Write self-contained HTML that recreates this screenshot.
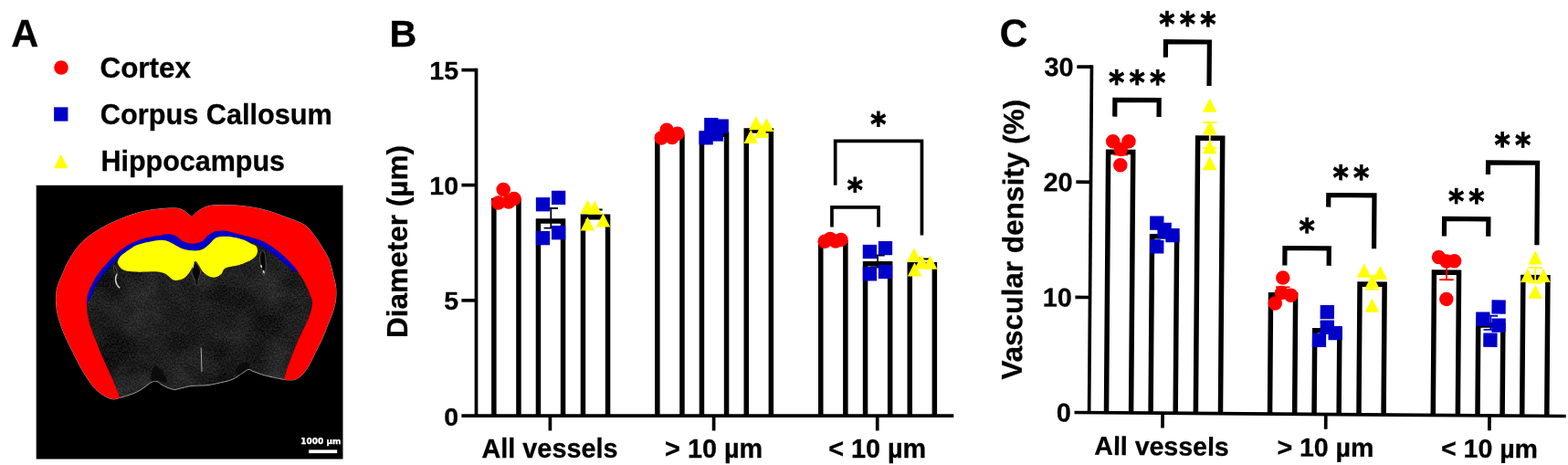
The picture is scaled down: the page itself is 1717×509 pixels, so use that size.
<!DOCTYPE html>
<html lang="en">
<head>
<meta charset="utf-8">
<title>Vascular diameter and density by brain region</title>
<style>
html,body{margin:0;padding:0;background:#fff;}
body{width:1717px;height:509px;overflow:hidden;}
svg{display:block;}
</style>
</head>
<body>
<svg width="1717" height="509" viewBox="0 0 1717 509">
<defs>
<filter id="grain" x="0" y="0" width="100%" height="100%" color-interpolation-filters="sRGB">
<feTurbulence type="fractalNoise" baseFrequency="0.55" numOctaves="2" seed="7" result="fine"/>
<feColorMatrix in="fine" type="matrix" values="0.24 0 0 0 -0.05  0.24 0 0 0 -0.05  0.24 0 0 0 -0.05  0 0 0 0 1" result="fineg"/>
<feTurbulence type="fractalNoise" baseFrequency="0.022" numOctaves="3" seed="11" result="coarse"/>
<feColorMatrix in="coarse" type="matrix" values="0.2 0 0 0 -0.05  0.2 0 0 0 -0.05  0.2 0 0 0 -0.05  0 0 0 0 1" result="coarseg"/>
<feComposite in="fineg" in2="coarseg" operator="arithmetic" k1="0" k2="1" k3="1" k4="0" result="tex"/>
<feComposite in="tex" in2="SourceAlpha" operator="in"/>
</filter>
</defs>
<rect width="1717" height="509" fill="#fff"/>
<g id="panelA">
<rect x="39.7" y="202.8" width="335.8" height="299.7" fill="#000"/>
<path d="M209.8 237.8C211.13 236.58 214.38 232.6 217.8 230.5C221.22 228.4 224.78 226.2 230.3 225.2C235.82 224.2 244.03 224.32 250.9 224.5C257.77 224.68 264.62 225.3 271.5 226.3C278.38 227.3 285.32 228.6 292.2 230.5C299.08 232.4 305.93 235.08 312.8 237.7C319.67 240.32 328.25 242.93 333.4 246.2C338.55 249.47 340.27 252.88 343.7 257.3C347.13 261.72 351.2 268.08 354 272.7C356.8 277.32 358.75 280.45 360.5 285C362.25 289.55 363.3 295.12 364.5 300C365.7 304.88 367.2 309.55 367.7 314.3C368.2 319.05 368.12 323.75 367.5 328.5C366.88 333.25 365.53 338.05 364 342.8C362.47 347.55 360.2 352.25 358.3 357C356.4 361.75 354.73 366.55 352.6 371.3C350.47 376.05 347.87 380.75 345.5 385.5C343.13 390.25 341.02 395.52 338.4 399.8C335.78 404.08 332.65 408.55 329.8 411.2C326.95 413.85 324.38 414.98 321.3 415.7C318.22 416.42 312.97 415.53 311.3 415.5C309.08 415.05 302.05 413.72 298 412.8C293.95 411.88 290.67 411.13 287 410C283.33 408.87 278.5 406.92 276 406C273.5 405.08 273.83 404.05 272 404.5C270.17 404.95 268 406.87 265 408.7C262 410.53 258.57 413.67 254 415.5C249.43 417.33 242.45 418.63 237.6 419.7C232.75 420.77 229.5 421.45 224.9 421.9C220.3 422.35 214.82 421.8 210 422.4C205.18 423 199.2 424.82 196 425.5C192.8 426.18 192.8 426.67 190.8 426.5C188.8 426.33 186.3 425.42 184 424.5C181.7 423.58 179 422.17 177 421C175 419.83 173.83 417.95 172 417.5C170.17 417.05 168.33 417.22 166 418.3C163.67 419.38 160.75 422.17 158 424C155.25 425.83 152.5 427.83 149.5 429.3C146.5 430.77 143.03 431.78 140 432.8C136.97 433.82 132.75 434.97 131.3 435.4C130.1 435.65 126.72 437.13 124.1 436.9C121.48 436.67 118.92 435.9 115.6 434C112.28 432.1 107.53 428.82 104.2 425.5C100.87 422.18 98.45 418.38 95.6 414.1C92.75 409.82 89.72 404.57 87.1 399.8C84.48 395.03 82.28 390.25 79.9 385.5C77.52 380.75 74.93 376.05 72.8 371.3C70.67 366.55 68.77 361.75 67.1 357C65.43 352.25 63.75 347.55 62.8 342.8C61.85 338.05 61.4 333.25 61.4 328.5C61.4 323.75 61.62 319.05 62.8 314.3C63.98 309.55 66.3 305.05 68.5 300C70.7 294.95 72.42 289.87 76 284C79.58 278.13 84.23 270.47 90 264.8C95.77 259.13 103.73 254.13 110.6 250C117.47 245.87 124.32 242.88 131.2 240C138.08 237.12 145.02 234.53 151.9 232.7C158.78 230.87 165.63 229.78 172.5 229C179.37 228.22 188.12 227.62 193.1 228C198.08 228.38 199.62 229.67 202.4 231.3C205.18 232.93 208.57 236.72 209.8 237.8Z" fill="#262626" filter="url(#grain)"/>
<path d="M209.8 237.8C211.13 236.58 214.38 232.6 217.8 230.5C221.22 228.4 224.78 226.2 230.3 225.2C235.82 224.2 244.03 224.32 250.9 224.5C257.77 224.68 264.62 225.3 271.5 226.3C278.38 227.3 285.32 228.6 292.2 230.5C299.08 232.4 305.93 235.08 312.8 237.7C319.67 240.32 328.25 242.93 333.4 246.2C338.55 249.47 340.27 252.88 343.7 257.3C347.13 261.72 351.2 268.08 354 272.7C356.8 277.32 358.75 280.45 360.5 285C362.25 289.55 363.3 295.12 364.5 300C365.7 304.88 367.2 309.55 367.7 314.3C368.2 319.05 368.12 323.75 367.5 328.5C366.88 333.25 365.53 338.05 364 342.8C362.47 347.55 360.2 352.25 358.3 357C356.4 361.75 354.73 366.55 352.6 371.3C350.47 376.05 347.87 380.75 345.5 385.5C343.13 390.25 341.02 395.52 338.4 399.8C335.78 404.08 332.65 408.55 329.8 411.2C326.95 413.85 324.38 414.98 321.3 415.7C318.22 416.42 312.97 415.53 311.3 415.5C309.08 415.05 302.05 413.72 298 412.8C293.95 411.88 290.67 411.13 287 410C283.33 408.87 278.5 406.92 276 406C273.5 405.08 273.83 404.05 272 404.5C270.17 404.95 268 406.87 265 408.7C262 410.53 258.57 413.67 254 415.5C249.43 417.33 242.45 418.63 237.6 419.7C232.75 420.77 229.5 421.45 224.9 421.9C220.3 422.35 214.82 421.8 210 422.4C205.18 423 199.2 424.82 196 425.5C192.8 426.18 192.8 426.67 190.8 426.5C188.8 426.33 186.3 425.42 184 424.5C181.7 423.58 179 422.17 177 421C175 419.83 173.83 417.95 172 417.5C170.17 417.05 168.33 417.22 166 418.3C163.67 419.38 160.75 422.17 158 424C155.25 425.83 152.5 427.83 149.5 429.3C146.5 430.77 143.03 431.78 140 432.8C136.97 433.82 132.75 434.97 131.3 435.4C130.1 435.65 126.72 437.13 124.1 436.9C121.48 436.67 118.92 435.9 115.6 434C112.28 432.1 107.53 428.82 104.2 425.5C100.87 422.18 98.45 418.38 95.6 414.1C92.75 409.82 89.72 404.57 87.1 399.8C84.48 395.03 82.28 390.25 79.9 385.5C77.52 380.75 74.93 376.05 72.8 371.3C70.67 366.55 68.77 361.75 67.1 357C65.43 352.25 63.75 347.55 62.8 342.8C61.85 338.05 61.4 333.25 61.4 328.5C61.4 323.75 61.62 319.05 62.8 314.3C63.98 309.55 66.3 305.05 68.5 300C70.7 294.95 72.42 289.87 76 284C79.58 278.13 84.23 270.47 90 264.8C95.77 259.13 103.73 254.13 110.6 250C117.47 245.87 124.32 242.88 131.2 240C138.08 237.12 145.02 234.53 151.9 232.7C158.78 230.87 165.63 229.78 172.5 229C179.37 228.22 188.12 227.62 193.1 228C198.08 228.38 199.62 229.67 202.4 231.3C205.18 232.93 208.57 236.72 209.8 237.8Z" fill="none" stroke="#9c9c9c" stroke-width="1"/>
<g fill="#0b0b0b" opacity="0.92">
<path d="M257.500 406.500C259 401.500 263 397.500 268 396.500C271.500 396 273.500 398.500 273.800 403C271 403.500 267.500 405.500 264 409C261.500 411 258.500 410 257.500 406.500Z"/>
<path d="M165.500 416.500C164.500 410 166.500 403 170 399.500C174 401.500 178.500 407 181.500 412.500C183 415.500 183 418.500 180 419.500C176.500 417.500 173 416.500 170.500 417C168.500 417.500 166.500 417.500 165.500 416.500Z"/>
</g>
<g fill="#060606" stroke="#6e6e6e" stroke-width="0.6">
<path d="M213.600 286.500C216 289 219.500 293 219.500 297.500C219.500 301 217.500 304 217 307C216.800 310 217.500 312 215.500 313C213.500 312 214 309 213.500 307C213 304 210 301 210 297C210 293 212 289 213.600 286.500Z"/>
<path d="M125 290.500C126.800 293 128.200 296.500 128.600 300.500C127 300 125.500 297.500 124.600 294.500C124.300 293 124.500 291.500 125 290.500Z"/>
<path d="M287.400 274.300C289.500 275 290.800 279 290.800 283C290.800 287 291.500 290 291 294C290.800 297 290 300 288.800 301.800C287.500 300 287.300 297 286.500 294C285.500 290 284.600 287 284.600 283C284.600 279 285.500 275.500 287.400 274.300Z"/>
</g>
<g fill="none" stroke="#d8d8d8" stroke-linecap="round">
<path d="M127.800 300.500C126.300 303.500 126.300 308 128 311.500C128.800 313 129.800 314.200 130.800 314.800" stroke-width="1.5"/>
<path d="M212.300 288.500C211.600 290 211.300 291.500 211.300 293" stroke-width="1.1"/>
<path d="M286 290.800L286.300 292.200M288.600 296.600L289 298.600" stroke-width="1.6"/>
</g>
<path d="M220.2 380.500L221 407" stroke="#a9a9a9" stroke-width="1" fill="none"/>
<path d="M95 328.5C95.3 327.08 95.92 322.72 96.8 320C97.68 317.28 98.73 315.27 100.3 312.2C101.87 309.13 103.83 305.13 106.2 301.6C108.57 298.07 111.55 294.43 114.5 291C117.45 287.57 120.95 283.87 123.9 281C126.85 278.13 129.25 276.07 132.2 273.8C135.15 271.53 137.3 269.57 141.6 267.4C145.9 265.23 152.85 262.38 158 260.8C163.15 259.22 168.03 258.67 172.5 257.9C176.97 257.13 181.37 256.07 184.8 256.2C188.23 256.33 190.68 257.48 193.1 258.7C195.52 259.92 197.23 262.3 199.3 263.5C201.37 264.7 203.1 265.4 205.5 265.9C207.9 266.4 210.95 266.9 213.7 266.5C216.45 266.1 219.58 265.03 222 263.5C224.42 261.97 225.78 259.03 228.2 257.3C230.62 255.57 233.4 253.87 236.5 253.1C239.6 252.33 242.68 252.18 246.8 252.7C250.92 253.22 256.5 255.02 261.2 256.2C265.9 257.38 270.4 258.43 275 259.8C279.6 261.17 284.22 262.17 288.8 264.4C293.38 266.63 298.38 270.15 302.5 273.2C306.62 276.25 310.07 279.4 313.5 282.7C316.93 286 321.13 290.7 323.1 293C325.07 295.3 324.93 295.92 325.3 296.5L324.5 297.6C323.58 297.15 321.52 296.73 319 294.9C316.48 293.07 313.3 289.82 309.4 286.6C305.5 283.38 299.95 278.68 295.6 275.6C291.25 272.52 286.73 269.82 283.3 268.1C279.87 266.38 277.65 266.18 275 265.3C272.35 264.42 270.38 263.68 267.4 262.8C264.42 261.92 260.53 260.68 257.1 260C253.67 259.32 250.23 258.65 246.8 258.7C243.37 258.75 239.3 259 236.5 260.3C233.7 261.6 232.42 264.43 230 266.5C227.58 268.57 224.72 271.38 222 272.7C219.28 274.02 217.15 274.4 213.7 274.4C210.25 274.4 204.73 273.6 201.3 272.7C197.87 271.8 195.85 270.37 193.1 269C190.35 267.63 187.55 265.53 184.8 264.5C182.05 263.47 180.37 262.73 176.6 262.8C172.83 262.87 166.32 264.1 162.2 264.9C158.08 265.7 154.77 266.6 151.9 267.6C149.03 268.6 147.3 269.57 145 270.9C142.7 272.23 140.23 274.03 138.1 275.6C135.97 277.17 133.78 278.82 132.2 280.3C130.62 281.78 129.98 283.12 128.6 284.5C127.22 285.88 125.87 286.63 123.9 288.6C121.93 290.57 119.15 293.55 116.8 296.3C114.45 299.05 111.95 302.07 109.8 305.1C107.65 308.13 105.58 311.18 103.9 314.5C102.22 317.82 101.1 322.08 99.7 325C98.3 327.92 96.2 330.83 95.5 332Z" fill="#0000c8"/>
<path d="M128.6 287.4C128.75 286.92 128.9 285.68 129.5 284.5C130.1 283.32 130.77 281.78 132.2 280.3C133.63 278.82 135.97 277.17 138.1 275.6C140.23 274.03 142.7 272.23 145 270.9C147.3 269.57 149.03 268.6 151.9 267.6C154.77 266.6 158.08 265.7 162.2 264.9C166.32 264.1 172.83 262.87 176.6 262.8C180.37 262.73 182.05 263.47 184.8 264.5C187.55 265.53 190.35 267.63 193.1 269C195.85 270.37 197.87 271.8 201.3 272.7C204.73 273.6 210.25 274.4 213.7 274.4C217.15 274.4 219.28 274.02 222 272.7C224.72 271.38 227.58 268.57 230 266.5C232.42 264.43 233.7 261.6 236.5 260.3C239.3 259 243.37 258.75 246.8 258.7C250.23 258.65 253.67 259.32 257.1 260C260.53 260.68 264.42 261.68 267.4 262.8C270.38 263.92 272.82 265.6 275 266.7C277.18 267.8 279.3 268.13 280.5 269.4C281.7 270.67 281.92 273.48 282.2 274.3C281.92 275.22 281.7 278.08 280.5 279.8C279.3 281.52 277.08 283.27 275 284.6C272.92 285.93 270.3 286.85 268 287.8C265.7 288.75 264.73 289.37 261.2 290.3C257.67 291.23 249.88 291.87 246.8 293.4C243.72 294.93 244.17 297.93 242.7 299.5C241.23 301.07 239.7 302.12 238 302.8C236.3 303.48 234.4 303.85 232.5 303.6C230.6 303.35 228.38 302.38 226.6 301.3C224.82 300.22 223.18 298.78 221.8 297.1C220.42 295.42 219.67 293.07 218.3 291.2C216.93 289.33 214.98 285.5 213.6 285.9C212.22 286.3 211.18 291.33 210 293.6C208.82 295.87 207.87 297.73 206.5 299.5C205.13 301.27 203.57 303.02 201.8 304.2C200.03 305.38 197.87 306.2 195.9 306.6C193.93 307 191.65 307.12 190 306.6C188.35 306.08 187.55 304.68 186 303.5C184.45 302.32 182.95 300.5 180.7 299.5C178.45 298.5 175.58 297.83 172.5 297.5C169.42 297.17 166.33 297.48 162.2 297.5C158.07 297.52 152.12 297.9 147.7 297.6C143.28 297.3 138.48 296.62 135.7 295.7C132.92 294.78 132.18 293.48 131 292.1C129.82 290.72 129 288.18 128.6 287.4Z" fill="#ffff00"/>
<path d="M209.8 237.8C211.13 236.58 214.38 232.6 217.8 230.5C221.22 228.4 224.78 226.2 230.3 225.2C235.82 224.2 244.03 224.32 250.9 224.5C257.77 224.68 264.62 225.3 271.5 226.3C278.38 227.3 285.32 228.6 292.2 230.5C299.08 232.4 305.93 235.08 312.8 237.7C319.67 240.32 328.25 242.93 333.4 246.2C338.55 249.47 340.27 252.88 343.7 257.3C347.13 261.72 351.2 268.08 354 272.7C356.8 277.32 358.75 280.45 360.5 285C362.25 289.55 363.3 295.12 364.5 300C365.7 304.88 367.2 309.55 367.7 314.3C368.2 319.05 368.12 323.75 367.5 328.5C366.88 333.25 365.53 338.05 364 342.8C362.47 347.55 360.2 352.25 358.3 357C356.4 361.75 354.73 366.55 352.6 371.3C350.47 376.05 347.87 380.75 345.5 385.5C343.13 390.25 341.02 395.52 338.4 399.8C335.78 404.08 332.65 408.55 329.8 411.2C326.95 413.85 324.38 414.98 321.3 415.7C318.22 416.42 312.97 415.53 311.3 415.5L311.3 414C312.02 411.63 313.93 404.55 315.6 399.8C317.27 395.05 319.4 390.25 321.3 385.5C323.2 380.75 324.87 376.05 327 371.3C329.13 366.55 331.97 361.75 334.1 357C336.23 352.25 338.47 347.07 339.8 342.8C341.13 338.53 342.13 334.7 342.1 331.4C342.07 328.1 340.7 326.1 339.6 323C338.5 319.9 337.1 316.12 335.5 312.8C333.9 309.48 332.07 306.4 330 303.1C327.93 299.8 325.85 296.4 323.1 293C320.35 289.6 316.93 286 313.5 282.7C310.07 279.4 306.62 276.25 302.5 273.2C298.38 270.15 293.38 266.63 288.8 264.4C284.22 262.17 279.6 261.17 275 259.8C270.4 258.43 265.9 257.38 261.2 256.2C256.5 255.02 250.92 253.22 246.8 252.7C242.68 252.18 239.6 252.33 236.5 253.1C233.4 253.87 230.62 255.57 228.2 257.3C225.78 259.03 224.42 261.97 222 263.5C219.58 265.03 216.45 266.1 213.7 266.5C210.95 266.9 207.9 266.4 205.5 265.9C203.1 265.4 201.37 264.7 199.3 263.5C197.23 262.3 195.52 259.92 193.1 258.7C190.68 257.48 188.23 256.33 184.8 256.2C181.37 256.07 176.97 257.13 172.5 257.9C168.03 258.67 163.15 259.22 158 260.8C152.85 262.38 145.9 265.23 141.6 267.4C137.3 269.57 135.15 271.53 132.2 273.8C129.25 276.07 126.85 278.13 123.9 281C120.95 283.87 117.45 287.57 114.5 291C111.55 294.43 108.57 298.07 106.2 301.6C103.83 305.13 101.87 309.13 100.3 312.2C98.73 315.27 97.68 317.28 96.8 320C95.92 322.72 95.2 324.7 95 328.5C94.8 332.3 94.93 338.05 95.6 342.8C96.27 347.55 97.57 352.25 99 357C100.43 361.75 102.38 366.55 104.2 371.3C106.02 376.05 107.9 380.75 109.9 385.5C111.9 390.25 114.07 395.03 116.2 399.8C118.33 404.57 120.67 409.35 122.7 414.1C124.73 418.85 126.97 424.82 128.4 428.3C129.83 431.78 130.82 433.88 131.3 435L131.3 435.4C130.1 435.65 126.72 437.13 124.1 436.9C121.48 436.67 118.92 435.9 115.6 434C112.28 432.1 107.53 428.82 104.2 425.5C100.87 422.18 98.45 418.38 95.6 414.1C92.75 409.82 89.72 404.57 87.1 399.8C84.48 395.03 82.28 390.25 79.9 385.5C77.52 380.75 74.93 376.05 72.8 371.3C70.67 366.55 68.77 361.75 67.1 357C65.43 352.25 63.75 347.55 62.8 342.8C61.85 338.05 61.4 333.25 61.4 328.5C61.4 323.75 61.62 319.05 62.8 314.3C63.98 309.55 66.3 305.05 68.5 300C70.7 294.95 72.42 289.87 76 284C79.58 278.13 84.23 270.47 90 264.8C95.77 259.13 103.73 254.13 110.6 250C117.47 245.87 124.32 242.88 131.2 240C138.08 237.12 145.02 234.53 151.9 232.7C158.78 230.87 165.63 229.78 172.5 229C179.37 228.22 188.12 227.62 193.1 228C198.08 228.38 199.62 229.67 202.4 231.3C205.18 232.93 208.57 236.72 209.8 237.8Z" fill="#ff0000"/>
<rect x="338.100" y="492.400" width="31.100" height="3.700" fill="#fff"/>
<text x="351.300" y="485.800" font-family='"DejaVu Sans", "Liberation Sans", sans-serif' font-weight="bold" font-size="9" fill="#fff" stroke="#fff" stroke-width="0.25" text-anchor="middle">1000 µm</text>
</g>
<g font-family='"Liberation Sans", Arial, Helvetica, sans-serif' font-weight="bold" fill="#000" stroke="#000" stroke-width="0.3">
<text x="12.3" y="50.7" font-size="41.6" text-anchor="start">A</text>
<text x="426.6" y="50.5" font-size="41.2" text-anchor="start">B</text>
<text x="109.5" y="84.7" font-size="31.4" text-anchor="start">Cortex</text>
<text x="109.8" y="135.9" font-size="30.7" text-anchor="start">Corpus Callosum</text>
<text x="110.4" y="186.5" font-size="30.5" text-anchor="start">Hippocampus</text>
</g>
<circle cx="67" cy="74" r="7.8" fill="#ff0000"/>
<rect x="59.1" y="117.35" width="15.3" height="15.3" fill="#0000c8"/>
<path d="M66.8 168.7L74.5 184.2L59.1 184.2Z" fill="#ffff00"/>
<g id="panelB">
<path d="M521.5 74.75V455.2" stroke="#000" stroke-width="3.7" fill="none"/><path d="M505.4 455.2H1044.3" stroke="#000" stroke-width="3.7" fill="none"/><path d="M505.4 76.6H521.5" stroke="#000" stroke-width="3.7" fill="none"/><path d="M505.4 202.6H521.5" stroke="#000" stroke-width="3.7" fill="none"/><path d="M505.4 328.8H521.5" stroke="#000" stroke-width="3.7" fill="none"/><path d="M602.4 455.2V471.45" stroke="#000" stroke-width="3.7" fill="none"/><path d="M781.6 455.2V471.45" stroke="#000" stroke-width="3.7" fill="none"/><path d="M960.7 455.2V471.45" stroke="#000" stroke-width="3.7" fill="none"/>
<g font-family='"Liberation Sans", Arial, Helvetica, sans-serif' font-weight="bold" fill="#000" stroke="#000" stroke-width="0.3">
<text x="502" y="87.05" font-size="28.5" text-anchor="end">15</text>
<text x="502" y="213.05" font-size="28.5" text-anchor="end">10</text>
<text x="502" y="339.25" font-size="28.5" text-anchor="end">5</text>
<text x="502" y="465.65" font-size="28.5" text-anchor="end">0</text>
<text x="602" y="501.3" font-size="28.8" text-anchor="middle">All vessels</text>
<text x="781.6" y="501.3" font-size="28.8" text-anchor="middle">&gt; 10 µm</text>
<text x="960.7" y="501.3" font-size="28.8" text-anchor="middle">&lt; 10 µm</text>
<text transform="translate(446.3 264.5) rotate(-90)" font-size="31.55" text-anchor="middle">Diameter (µm)</text>
</g>
<path d="M540.85 455.2V219.55H567.95V455.2" fill="none" stroke="#000" stroke-width="5.5"/>
<path d="M589.45 455.2V241.95H616.55V455.2" fill="none" stroke="#000" stroke-width="5.5"/>
<path d="M638.45 455.2V237.25H665.55V455.2" fill="none" stroke="#000" stroke-width="5.5"/>
<path d="M719.85 455.2V149.95H746.95V455.2" fill="none" stroke="#000" stroke-width="5.5"/>
<path d="M768.45 455.2V147.25H795.55V455.2" fill="none" stroke="#000" stroke-width="5.5"/>
<path d="M817.25 455.2V143.05H844.35V455.2" fill="none" stroke="#000" stroke-width="5.5"/>
<path d="M898.75 455.2V265.75H925.85V455.2" fill="none" stroke="#000" stroke-width="5.5"/>
<path d="M947.55 455.2V288.75H974.65V455.2" fill="none" stroke="#000" stroke-width="5.5"/>
<path d="M996.25 455.2V289.75H1023.35V455.2" fill="none" stroke="#000" stroke-width="5.5"/>
<path d="M603.3 228V249.6M595.6 228H611M595.6 249.6H611" fill="none" stroke="#000" stroke-width="1.8"/>
<path d="M652 229.5V239.5M644.3 229.5H659.7M644.3 239.5H659.7" fill="none" stroke="#000" stroke-width="1.8"/>
<path d="M961 279.5V292.5M953.3 279.5H968.7M953.3 292.5H968.7" fill="none" stroke="#000" stroke-width="1.8"/>
<path d="M1009.8 283.5V290.5M1002.1 283.5H1017.5M1002.1 290.5H1017.5" fill="none" stroke="#000" stroke-width="1.8"/>
<circle cx="551.2" cy="207.6" r="7.75" fill="#ff0000"/>
<circle cx="545.7" cy="222" r="7.75" fill="#ff0000"/>
<circle cx="562.9" cy="217.6" r="7.75" fill="#ff0000"/>
<circle cx="557" cy="221" r="7.75" fill="#ff0000"/>
<circle cx="730.1" cy="142.3" r="7.75" fill="#ff0000"/>
<circle cx="724.2" cy="151.1" r="7.75" fill="#ff0000"/>
<circle cx="741.9" cy="146.2" r="7.75" fill="#ff0000"/>
<circle cx="736" cy="150.5" r="7.75" fill="#ff0000"/>
<circle cx="903.2" cy="264.3" r="7.75" fill="#ff0000"/>
<circle cx="909.1" cy="261.5" r="7.75" fill="#ff0000"/>
<circle cx="915" cy="264" r="7.75" fill="#ff0000"/>
<circle cx="920.9" cy="262.5" r="7.75" fill="#ff0000"/>
<rect x="586.85" y="216.1" width="15.3" height="15.3" fill="#0000c8"/>
<rect x="603.95" y="208.75" width="15.3" height="15.3" fill="#0000c8"/>
<rect x="586.85" y="252.95" width="15.3" height="15.3" fill="#0000c8"/>
<rect x="603.95" y="247.05" width="15.3" height="15.3" fill="#0000c8"/>
<rect x="771.15" y="128.95" width="15.3" height="15.3" fill="#0000c8"/>
<rect x="782.55" y="130.45" width="15.3" height="15.3" fill="#0000c8"/>
<rect x="765.45" y="143.15" width="15.3" height="15.3" fill="#0000c8"/>
<rect x="776.65" y="139.35" width="15.3" height="15.3" fill="#0000c8"/>
<rect x="944.75" y="267.85" width="15.3" height="15.3" fill="#0000c8"/>
<rect x="961.85" y="263.95" width="15.3" height="15.3" fill="#0000c8"/>
<rect x="944.75" y="292.15" width="15.3" height="15.3" fill="#0000c8"/>
<rect x="961.85" y="289.85" width="15.3" height="15.3" fill="#0000c8"/>
<path d="M643.4 218.7L651.15 233.9L635.65 233.9Z" fill="#ffff00"/>
<path d="M651.3 219.5L659.05 234.7L643.55 234.7Z" fill="#ffff00"/>
<path d="M643.4 237.2L651.15 252.4L635.65 252.4Z" fill="#ffff00"/>
<path d="M660.5 233.3L668.25 248.5L652.75 248.5Z" fill="#ffff00"/>
<path d="M827.8 127.1L835.55 142.3L820.05 142.3Z" fill="#ffff00"/>
<path d="M839.5 128.9L847.25 144.1L831.75 144.1Z" fill="#ffff00"/>
<path d="M834 135.8L841.75 151L826.25 151Z" fill="#ffff00"/>
<path d="M822.2 141.9L829.95 157.1L814.45 157.1Z" fill="#ffff00"/>
<path d="M1000.9 271.2L1008.65 286.4L993.15 286.4Z" fill="#ffff00"/>
<path d="M1009.3 279.1L1017.05 294.3L1001.55 294.3Z" fill="#ffff00"/>
<path d="M1018.6 279.5L1026.35 294.7L1010.85 294.7Z" fill="#ffff00"/>
<path d="M1001.5 287.3L1009.25 302.5L993.75 302.5Z" fill="#ffff00"/>
<path d="M914.65 202.8V154.45H1009.45V257.4" fill="none" stroke="#000" stroke-width="3.7"/>
<path d="M910.95 248.6V226.85H962.05V248.6" fill="none" stroke="#000" stroke-width="3.7"/>
<text transform="translate(953.28 148.28) scale(0.91 1)" font-family='"DejaVu Sans", "Liberation Sans", sans-serif' font-weight="bold" font-size="35.8" letter-spacing="5.95" fill="#000" stroke="#000" stroke-width="1" stroke-linejoin="miter">*</text>
<text transform="translate(927.78 220.08) scale(0.91 1)" font-family='"DejaVu Sans", "Liberation Sans", sans-serif' font-weight="bold" font-size="35.8" letter-spacing="5.95" fill="#000" stroke="#000" stroke-width="1" stroke-linejoin="miter">*</text>
</g>
<g id="panelC" transform="rotate(0.43 1192.6 451.6)">
<path d="M1192.6 71.34V451.6" stroke="#000" stroke-width="3.7" fill="none"/><path d="M1176.5 451.6H1714.71" stroke="#000" stroke-width="3.7" fill="none"/><path d="M1176.5 73.19H1192.6" stroke="#000" stroke-width="3.7" fill="none"/><path d="M1176.5 199.29H1192.6" stroke="#000" stroke-width="3.7" fill="none"/><path d="M1176.5 325.5H1192.6" stroke="#000" stroke-width="3.7" fill="none"/><path d="M1273.11 451.6V467.85" stroke="#000" stroke-width="3.7" fill="none"/><path d="M1451.81 451.6V467.85" stroke="#000" stroke-width="3.7" fill="none"/><path d="M1631.01 451.6V467.85" stroke="#000" stroke-width="3.7" fill="none"/>
<g font-family='"Liberation Sans", Arial, Helvetica, sans-serif' font-weight="bold" fill="#000" stroke="#000" stroke-width="0.3">
<text x="1172.8" y="83.49" font-size="28.8" text-anchor="end">30</text>
<text x="1172.8" y="209.59" font-size="28.8" text-anchor="end">20</text>
<text x="1172.8" y="335.8" font-size="28.8" text-anchor="end">10</text>
<text x="1172.8" y="461.9" font-size="28.8" text-anchor="end">0</text>
<text x="1272.35" y="497.7" font-size="28.5" text-anchor="middle">All vessels</text>
<text x="1451.75" y="497.66" font-size="28.5" text-anchor="middle">&gt; 10 µm</text>
<text x="1631.36" y="497.61" font-size="28.5" text-anchor="middle">&lt; 10 µm</text>
<text transform="translate(1118.58 262.95) rotate(-90)" font-size="31.55" text-anchor="middle">Vascular density (%)</text>
<text x="1091.4" y="51.45" font-size="42.6" text-anchor="start">C</text>
</g>
<path d="M1211.49 451.6V166.1H1238.59V451.6" fill="none" stroke="#000" stroke-width="5.5"/>
<path d="M1260.08 451.6V258.14H1287.18V451.6" fill="none" stroke="#000" stroke-width="5.5"/>
<path d="M1309.37 451.6V150.16H1336.47V451.6" fill="none" stroke="#000" stroke-width="5.5"/>
<path d="M1390.56 451.6V321.16H1417.66V451.6" fill="none" stroke="#000" stroke-width="5.5"/>
<path d="M1439.05 451.6V359.8H1466.15V451.6" fill="none" stroke="#000" stroke-width="5.5"/>
<path d="M1487.97 451.6V308.83H1515.07V451.6" fill="none" stroke="#000" stroke-width="5.5"/>
<path d="M1569.27 451.6V295.22H1596.37V451.6" fill="none" stroke="#000" stroke-width="5.5"/>
<path d="M1618 451.6V352.65H1645.1V451.6" fill="none" stroke="#000" stroke-width="5.5"/>
<path d="M1666.71 451.6V299.99H1693.81V451.6" fill="none" stroke="#000" stroke-width="5.5"/>
<path d="M1225.04 157.25V169.25M1217.34 157.25H1232.74M1217.34 169.25H1232.74" fill="none" stroke="#ff0000" stroke-width="1.8"/>
<path d="M1273.63 250.89V259.89M1265.93 250.89H1281.33M1265.93 259.89H1281.33" fill="none" stroke="#0000c8" stroke-width="1.8"/>
<path d="M1322.52 133.02V161.02M1314.82 133.02H1330.22M1314.82 161.02H1330.22" fill="none" stroke="#ffff00" stroke-width="1.8"/>
<path d="M1403.81 312.71V324.41M1396.11 312.71H1411.51M1396.11 324.41H1411.51" fill="none" stroke="#ff0000" stroke-width="1.8"/>
<path d="M1452.6 351.05V363.05M1444.9 351.05H1460.3M1444.9 363.05H1460.3" fill="none" stroke="#0000c8" stroke-width="1.8"/>
<path d="M1501.52 299.68V314.28M1493.82 299.68H1509.22M1493.82 314.28H1509.22" fill="none" stroke="#ffff00" stroke-width="1.8"/>
<path d="M1582.82 282.07V303.27M1575.12 282.07H1590.52M1575.12 303.27H1590.52" fill="none" stroke="#ff0000" stroke-width="1.8"/>
<path d="M1631.55 342.4V357.6M1623.85 342.4H1639.25M1623.85 357.6H1639.25" fill="none" stroke="#0000c8" stroke-width="1.8"/>
<path d="M1680.06 289.34V305.84M1672.36 289.34H1687.76M1672.36 305.84H1687.76" fill="none" stroke="#ffff00" stroke-width="1.8"/>
<circle cx="1216.47" cy="154.51" r="7.75" fill="#ff0000"/>
<circle cx="1233.77" cy="154.38" r="7.75" fill="#ff0000"/>
<circle cx="1225.04" cy="163.15" r="7.75" fill="#ff0000"/>
<circle cx="1224.77" cy="180.45" r="7.75" fill="#ff0000"/>
<circle cx="1403.69" cy="302.51" r="7.75" fill="#ff0000"/>
<circle cx="1402.41" cy="319.02" r="7.75" fill="#ff0000"/>
<circle cx="1412.63" cy="321.55" r="7.75" fill="#ff0000"/>
<circle cx="1395.4" cy="330.47" r="7.75" fill="#ff0000"/>
<circle cx="1574.21" cy="278.73" r="7.75" fill="#ff0000"/>
<circle cx="1582.75" cy="283.07" r="7.75" fill="#ff0000"/>
<circle cx="1591.34" cy="282.8" r="7.75" fill="#ff0000"/>
<circle cx="1582.86" cy="324.47" r="7.75" fill="#ff0000"/>
<rect x="1257.59" y="235.9" width="15.3" height="15.3" fill="#0000c8"/>
<rect x="1265.95" y="243.14" width="15.3" height="15.3" fill="#0000c8"/>
<rect x="1274.89" y="249.27" width="15.3" height="15.3" fill="#0000c8"/>
<rect x="1257.78" y="261.6" width="15.3" height="15.3" fill="#0000c8"/>
<rect x="1444.82" y="332" width="15.3" height="15.3" fill="#0000c8"/>
<rect x="1444.94" y="348.6" width="15.3" height="15.3" fill="#0000c8"/>
<rect x="1453.89" y="354.93" width="15.3" height="15.3" fill="#0000c8"/>
<rect x="1436.25" y="362.86" width="15.3" height="15.3" fill="#0000c8"/>
<rect x="1632.57" y="324.99" width="15.3" height="15.3" fill="#0000c8"/>
<rect x="1615.37" y="338.32" width="15.3" height="15.3" fill="#0000c8"/>
<rect x="1632.72" y="345.09" width="15.3" height="15.3" fill="#0000c8"/>
<rect x="1623.64" y="361.26" width="15.3" height="15.3" fill="#0000c8"/>
<path d="M1322.21 106.52L1329.96 121.72L1314.46 121.72Z" fill="#ffff00"/>
<path d="M1322.4 131.12L1330.15 146.32L1314.65 146.32Z" fill="#ffff00"/>
<path d="M1322.56 152.22L1330.31 167.42L1314.81 167.42Z" fill="#ffff00"/>
<path d="M1322.69 170.02L1330.44 185.22L1314.94 185.22Z" fill="#ffff00"/>
<path d="M1492.57 286.24L1500.32 301.44L1484.82 301.44Z" fill="#ffff00"/>
<path d="M1510.28 288.31L1518.03 303.51L1502.53 303.51Z" fill="#ffff00"/>
<path d="M1501.55 297.68L1509.3 312.88L1493.8 312.88Z" fill="#ffff00"/>
<path d="M1501.55 324.18L1509.3 339.38L1493.8 339.38Z" fill="#ffff00"/>
<path d="M1679.86 270.64L1687.61 285.84L1672.11 285.84Z" fill="#ffff00"/>
<path d="M1671.6 290.2L1679.35 305.4L1663.85 305.4Z" fill="#ffff00"/>
<path d="M1688.8 290.07L1696.55 305.27L1681.05 305.27Z" fill="#ffff00"/>
<path d="M1680.14 308.04L1687.89 323.24L1672.39 323.24Z" fill="#ffff00"/>
<path d="M1218.31 127.42V109.12H1266.61V127.42" fill="none" stroke="#000" stroke-width="5.2"/>
<path d="M1273.43 62.1V45H1321.33V93.1" fill="none" stroke="#000" stroke-width="5.2"/>
<path d="M1405.62 288.91V269.91H1453.92V288.91" fill="none" stroke="#000" stroke-width="5.2"/>
<path d="M1452.99 224.65V211.55H1503.19V269.85" fill="none" stroke="#000" stroke-width="5.2"/>
<path d="M1579.98 255.51V236.51H1628.28V255.51" fill="none" stroke="#000" stroke-width="5.2"/>
<path d="M1627.51 187.63V174.53H1681.51V264.53" fill="none" stroke="#000" stroke-width="5.2"/>
<text transform="translate(1266.14 38.08) scale(0.91 1)" font-family='"DejaVu Sans", "Liberation Sans", sans-serif' font-weight="bold" font-size="35.8" letter-spacing="5.95" fill="#000" stroke="#000" stroke-width="1" stroke-linejoin="miter">***</text>
<text transform="translate(1211.42 102.49) scale(0.91 1)" font-family='"DejaVu Sans", "Liberation Sans", sans-serif' font-weight="bold" font-size="35.8" letter-spacing="5.95" fill="#000" stroke="#000" stroke-width="1" stroke-linejoin="miter">***</text>
<text transform="translate(1421.03 263.29) scale(0.91 1)" font-family='"DejaVu Sans", "Liberation Sans", sans-serif' font-weight="bold" font-size="35.8" letter-spacing="5.95" fill="#000" stroke="#000" stroke-width="1" stroke-linejoin="miter">*</text>
<text transform="translate(1457.65 204.73) scale(0.91 1)" font-family='"DejaVu Sans", "Liberation Sans", sans-serif' font-weight="bold" font-size="35.8" letter-spacing="5.95" fill="#000" stroke="#000" stroke-width="1" stroke-linejoin="miter">**</text>
<text transform="translate(1584.24 229.88) scale(0.91 1)" font-family='"DejaVu Sans", "Liberation Sans", sans-serif' font-weight="bold" font-size="35.8" letter-spacing="5.95" fill="#000" stroke="#000" stroke-width="1" stroke-linejoin="miter">**</text>
<text transform="translate(1634.37 167.7) scale(0.91 1)" font-family='"DejaVu Sans", "Liberation Sans", sans-serif' font-weight="bold" font-size="35.8" letter-spacing="5.95" fill="#000" stroke="#000" stroke-width="1" stroke-linejoin="miter">**</text>
</g>
</svg>
</body>
</html>
